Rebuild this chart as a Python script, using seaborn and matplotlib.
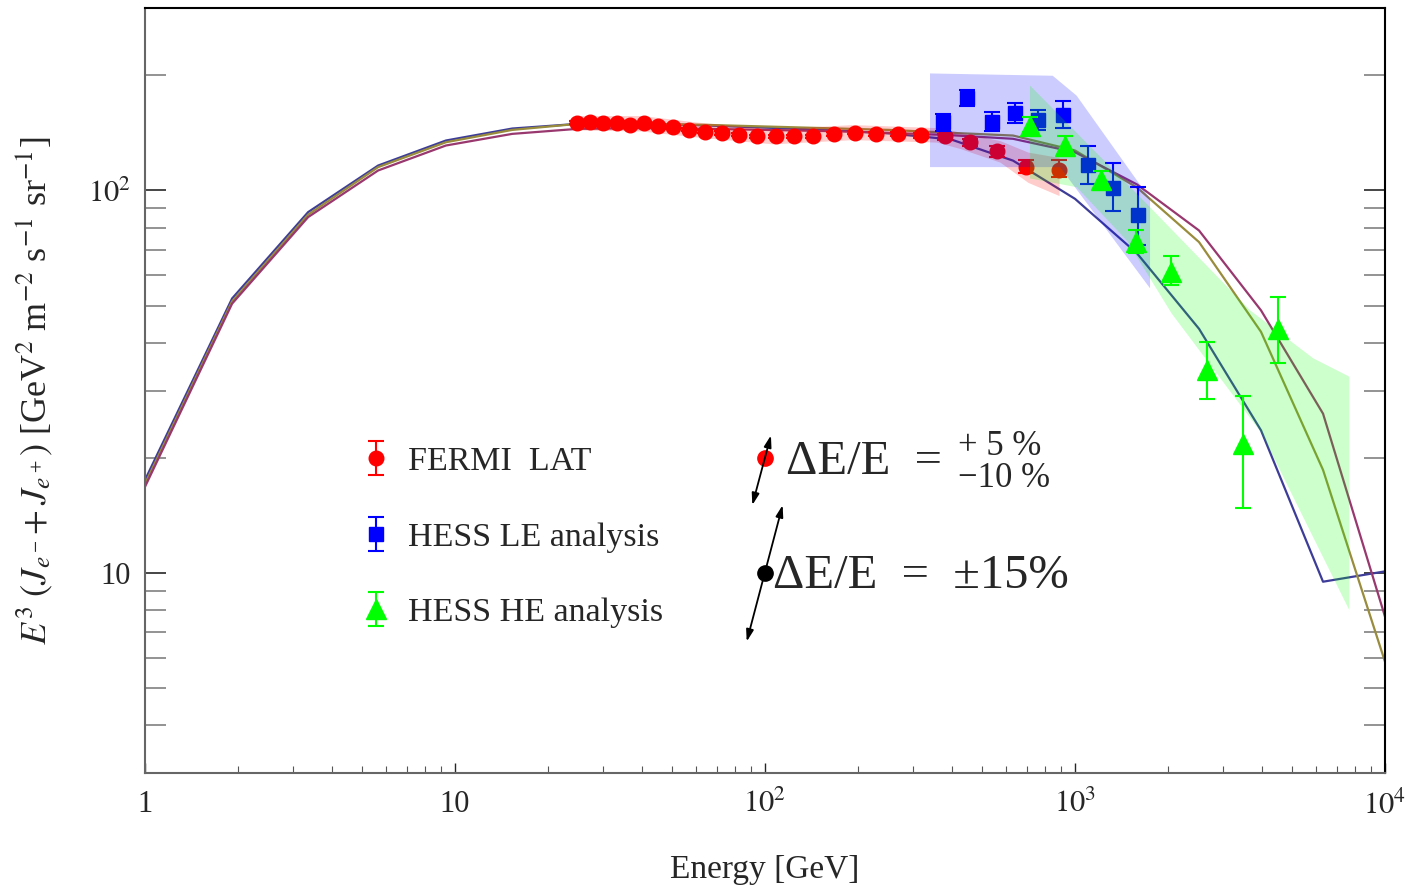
import numpy as np
import matplotlib
matplotlib.use("Agg")
import matplotlib.pyplot as plt
import seaborn as sns
from matplotlib.ticker import LogLocator, NullFormatter

# --- model curves: E^3 (J_e- + J_e+) vs energy [GeV]
model_E = [1, 1.91, 3.36, 5.65, 9.35, 15.3, 24.8, 40, 63, 100, 158, 251, 398,
           631, 1000, 1585, 2512, 3981, 6310, 10000]
model_blue = [17.5, 52.2, 87.8, 116.2, 135.1, 145.2, 149.3, 149.5, 148, 146, 144,
              141, 136, 119.7, 95.1, 68.5, 43.5, 23.6, 9.49, 10.1]
model_olive = [17.1, 51.3, 86.5, 115.1, 133.7, 144.0, 149.3, 149.5, 148.5, 147,
               145.5, 144, 141.5, 139.2, 127.2, 101.8, 73.3, 42.7, 18.6, 5.86]
model_purple = [16.8, 50.6, 85.2, 112.8, 131.1, 140.6, 144.9, 145.5, 145, 144,
                143, 141.5, 139.5, 136.5, 125.9, 103.7, 78.6, 48.6, 26.1, 7.69]

# --- FERMI LAT
fermi_E = [24.8, 27.3, 30.1, 33.2, 36.7, 40.8, 45.3, 50.6, 56.9, 64.0, 72.5, 82.4,
           94.4, 108.3, 124.4, 143.2, 167, 194.7, 228, 268, 318, 380.7, 458.6,
           558.8, 694.6, 887.8]
fermi_flux = [150.3, 151.2, 150.5, 150.5, 148.7, 149.9, 147.8, 146.3, 144.3, 142.6,
              141.2, 140.0, 138.4, 138.4, 138.4, 138.4, 140.6, 141.7, 140.3, 140.6,
              139.4, 138.4, 133.6, 126.6, 115.0, 113.1]
fermi_err_hi = [1.5, 1.5, 1.5, 1.5, 1.5, 1.5, 1.5, 1.5, 1.5, 1.5, 1.5, 1.5, 1.5,
                1.5, 1.5, 1.5, 1.5, 1.5, 1.5, 1.5, 2, 2.5, 3, 4.5, 5.5, 7.4]
fermi_err_lo = [1.5, 1.5, 1.5, 1.5, 1.5, 1.5, 1.5, 1.5, 1.5, 1.5, 1.5, 1.5, 1.5,
                1.5, 1.5, 1.5, 1.5, 1.5, 1.5, 1.5, 2, 2.5, 3, 4, 4.0, 4.6]
fermi_band_E = [24.5, 40, 60, 106, 192, 358, 425, 573, 705, 888]
fermi_band_hi = [157, 157, 151, 145, 148.7, 146, 142, 135, 126, 122]
fermi_band_lo = [144, 143, 138, 132.4, 135.8, 133.8, 128.8, 118.6, 105, 97]

# --- HESS low-energy analysis
hess_le_E = [374.3, 447.3, 538.6, 640.4, 761.6, 916, 1098, 1324, 1593]
hess_le_flux = [151.4, 174.1, 151.4, 159.3, 153.0, 157.1, 116.9, 101.6, 86.1]
hess_le_hi = [158.6, 183.2, 160.8, 169.4, 162.4, 171.8, 130.5, 118.1, 102.4]
hess_le_lo = [143.4, 166.7, 143.4, 150.3, 144.0, 145.4, 104.1, 88.2, 71.9]
le_band_upper_E = [340.6, 847.5, 1012, 1746]
le_band_upper = [202.3, 199.5, 177, 95.1]
le_band_lower_E = [340.6, 895, 1746]
le_band_lower = [115.1, 115.1, 55.5]

# --- HESS high-energy analysis
hess_he_E = [716, 928, 1213, 1574, 2041, 2660, 3473, 4526]
hess_he_flux = [147.8, 131.1, 106.2, 73.3, 61.1, 33.9, 21.7, 43.5]
hess_he_hi = [156.1, 138.4, 112.3, 79.0, 67.6, 40.2, 29.0, 52.7]
hess_he_lo = [142.0, 125.9, 101.0, 68.6, 56.5, 28.5, 14.8, 35.4]
he_band_upper_E = [716, 1746, 3670, 5870, 7670]
he_band_upper = [188, 90.4, 48.6, 36.4, 32.6]
he_band_lower_E = [716, 1013, 1469, 2050, 4000, 7670]
he_band_lower = [107.5, 102, 74, 47.7, 23.2, 8.0]

# --- energy-scale shift annotation
shift_dot_E = [100, 100]
shift_dot_flux = [20, 10]
arrow1 = [(91.0, 15.05), (104.5, 22.9)]
arrow2 = [(87.3, 6.62), (114.0, 15.05)]

xtick_vals = [1, 10, 100, 1000, 10000]
xtick_labels = ["1", "10", "$10^2$", "$10^3$", "$10^4$"]
ytick_vals = [10, 100]
ytick_labels = ["10", "$10^2$"]

sns.set_style("ticks")
plt.rcParams["font.family"] = ["Liberation Serif", "DejaVu Sans"]
plt.rcParams["mathtext.fontset"] = "stix"

fig = plt.figure(figsize=(14.13, 8.86), dpi=100)
ax = fig.add_axes([0.1026, 0.1275, 0.8776, 0.8635])

# curves
for vals, col in [(model_blue, "#3d3d99"), (model_olive, "#998c3d"),
                  (model_purple, "#99386f")]:
    sns.lineplot(x=model_E, y=vals, ax=ax, color=col, lw=1.6, sort=False,
                 estimator=None, zorder=2)

eb_kw = dict(elinewidth=1.5, capthick=1.5, capsize=5.5, linestyle="none")

fermi = ax.errorbar(fermi_E, fermi_flux, yerr=[fermi_err_lo, fermi_err_hi],
                    fmt="o", color="#ff0000", ms=10.5, zorder=3,
                    label="FERMI  LAT", **eb_kw)
ax.fill_between(fermi_band_E, fermi_band_lo, fermi_band_hi, color="#ff0000",
                alpha=0.2, lw=0, zorder=4)

le_err = [np.subtract(hess_le_flux, hess_le_lo), np.subtract(hess_le_hi, hess_le_flux)]
hess_le = ax.errorbar(hess_le_E, hess_le_flux, yerr=le_err, fmt="s",
                      color="#0000ff", ms=10, zorder=5,
                      label="HESS LE analysis", **eb_kw)
ax.fill(le_band_upper_E + le_band_lower_E[::-1],
        le_band_upper + le_band_lower[::-1],
        color="#0000ff", alpha=0.2, lw=0, zorder=6)

ax.fill(he_band_upper_E + he_band_lower_E[::-1],
        he_band_upper + he_band_lower[::-1],
        color="#00ff00", alpha=0.2, lw=0, zorder=7)
he_err = [np.subtract(hess_he_flux, hess_he_lo), np.subtract(hess_he_hi, hess_he_flux)]
hess_he = ax.errorbar(hess_he_E, hess_he_flux, yerr=he_err, fmt="^",
                      color="#00ff00", ms=14, zorder=8,
                      label="HESS HE analysis", **eb_kw)

# energy-scale uncertainty illustration
ax.plot(shift_dot_E[0], shift_dot_flux[0], "o", color="#ff0000", ms=11, zorder=9)
ax.plot(shift_dot_E[1], shift_dot_flux[1], "o", color="black", ms=11, zorder=9)
for (a, b) in [arrow1, arrow2]:
    ax.annotate("", xy=b, xytext=a, zorder=10,
                arrowprops=dict(arrowstyle="<|-|>,head_length=0.7,head_width=0.22",
                                color="black", lw=1.3, shrinkA=0, shrinkB=0))
ax.text(116.9, 18.2, "ΔE/E  =", fontsize=35, va="baseline")
ax.text(419.5, 20.3, "+ 5 %", fontsize=25, va="baseline")
ax.text(419.5, 16.8, "−10 %", fontsize=25, va="baseline")
ax.text(106.1, 9.14, "ΔE/E  =  ±15%", fontsize=35, va="baseline")

ax.set_xscale("log")
ax.set_yscale("log")
ax.set_xlim(1, 1e4)
ax.set_ylim(3, 300)
ax.set_xticks(xtick_vals, xtick_labels)
ax.set_yticks(ytick_vals, ytick_labels)
ax.xaxis.set_minor_locator(LogLocator(base=10, subs=np.arange(2, 10)))
ax.yaxis.set_minor_locator(LogLocator(base=10, subs=np.arange(2, 10)))
ax.xaxis.set_minor_formatter(NullFormatter())
ax.yaxis.set_minor_formatter(NullFormatter())

ax.tick_params(axis="y", which="both", direction="in", length=15, width=1.2,
               left=True, right=True, labelsize=22, pad=10)
ax.tick_params(axis="y", which="minor", color="#808080")
ax.tick_params(axis="x", which="major", direction="in", length=7, width=1,
               top=False, labelsize=22, pad=12)
ax.tick_params(axis="x", which="minor", direction="in", length=5, width=0.8,
               top=False, color="#555555")

for s in ["left", "bottom"]:
    ax.spines[s].set_color("#666666")
for s in ["top", "right"]:
    ax.spines[s].set_color("black")
for s in ax.spines.values():
    s.set_linewidth(1.5)

ax.set_xlabel("Energy [GeV]", fontsize=24, labelpad=25)
ax.set_ylabel(r"$E^3\ (J_{e^-}\!+J_{e^+})$ [GeV$^2$ m$^{-2}$ s$^{-1}$ sr$^{-1}$]",
              fontsize=26, labelpad=24)

ax.legend(handles=[fermi, hess_le, hess_he], loc="upper left",
          bbox_to_anchor=(0.1726, 0.4275), frameon=False, fontsize=24.5,
          handlelength=1.0, handletextpad=0.45, labelspacing=1.32,
          borderpad=0, borderaxespad=0)

fig.savefig("out.png", dpi=100)
